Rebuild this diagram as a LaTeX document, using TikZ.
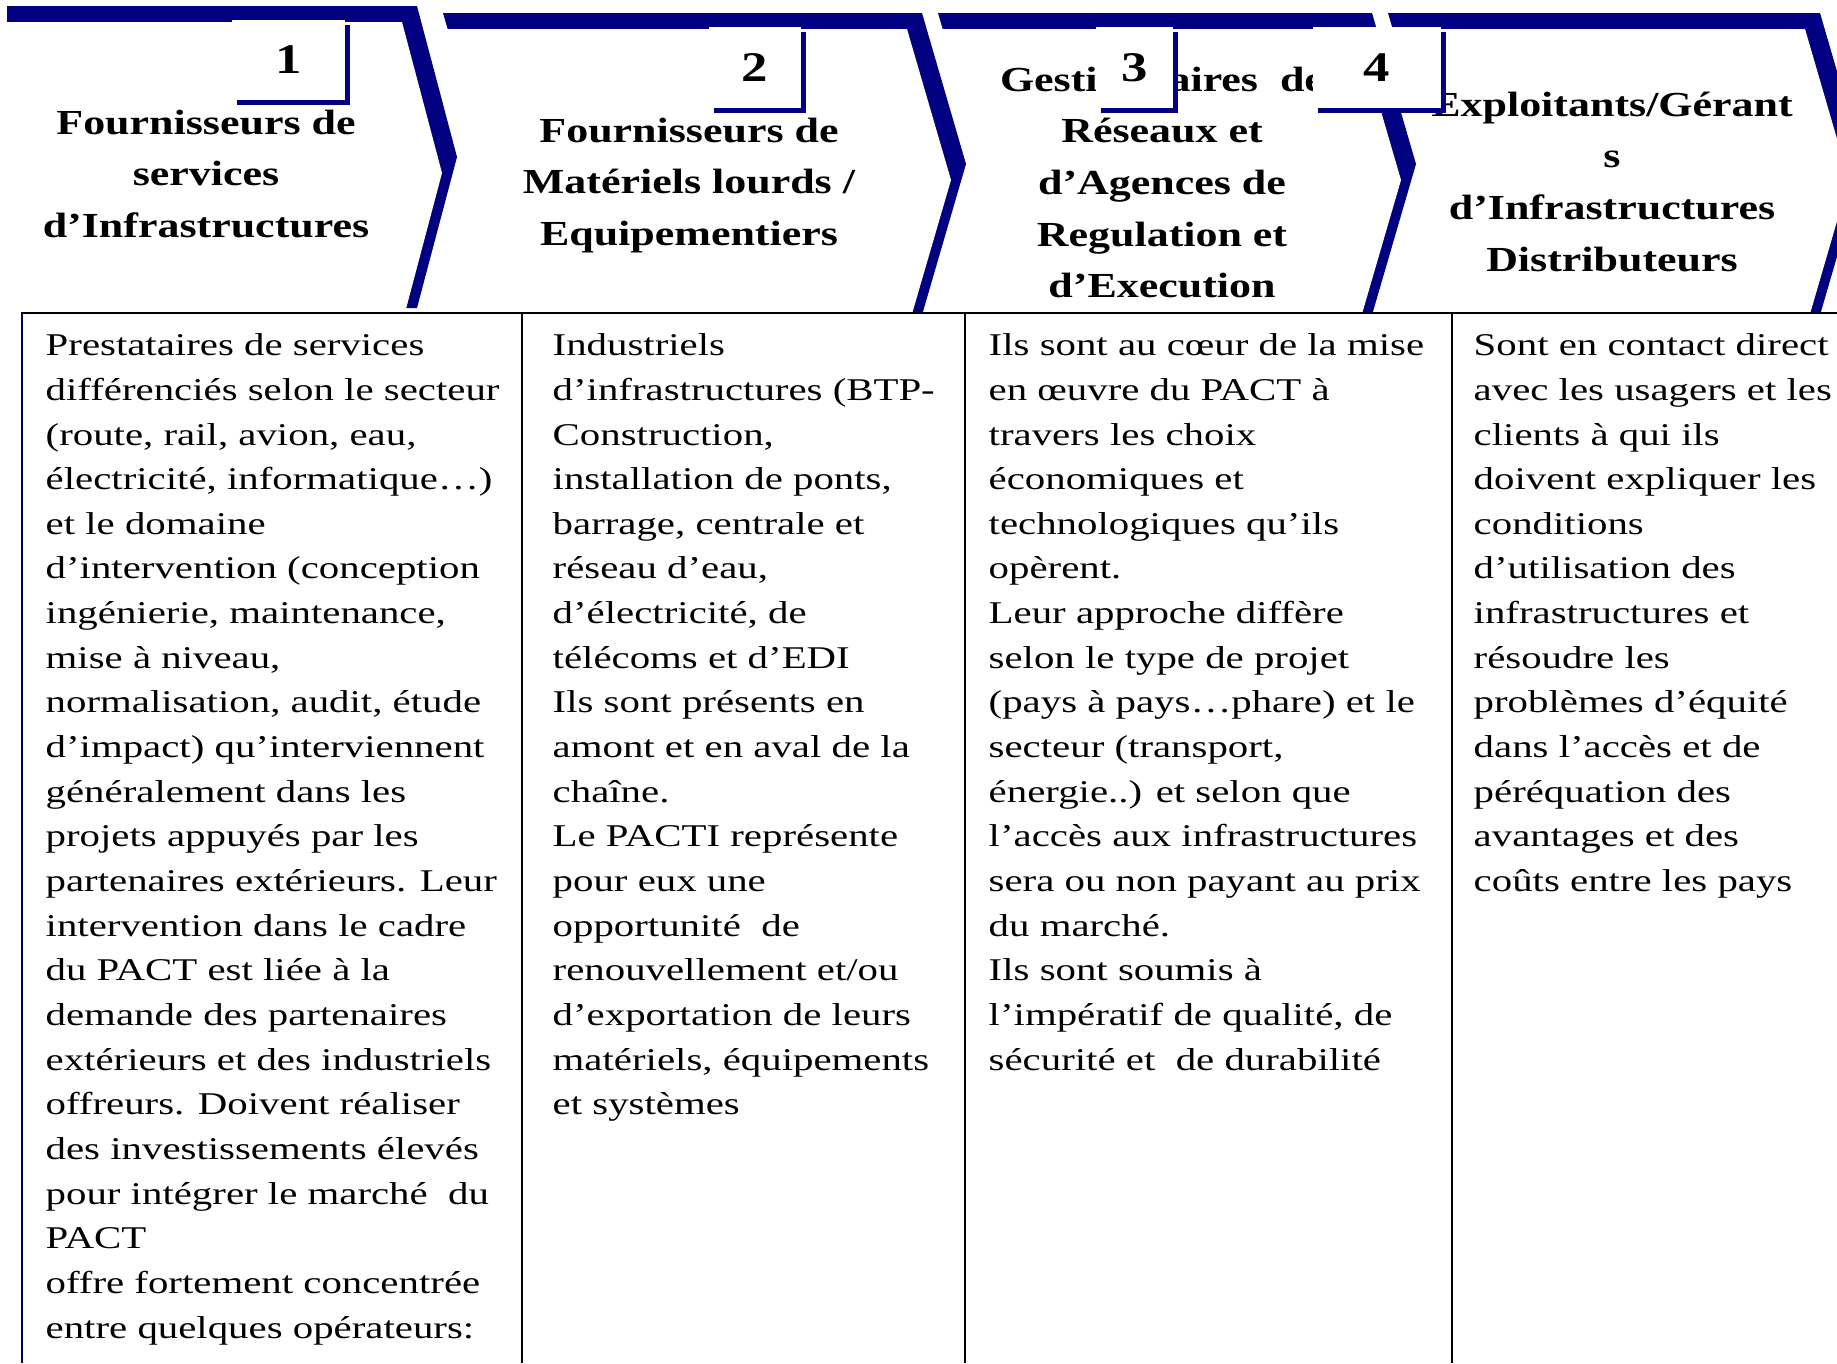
\documentclass[tikz,border=0pt]{standalone}
\usepackage{fontspec}
\setmainfont{Liberation Serif}[FakeStretch=1.29]
\newfontfamily\headfont{Liberation Serif Bold}[FakeStretch=1.25]
\usetikzlibrary{shadows}
\definecolor{navyblue}{RGB}{0,0,128}

\tikzstyle{chevback} = [fill=navyblue, shift={(15,-16)}]
\tikzstyle{chevfront} = [fill=white]
\tikzstyle{heading} = [anchor=north, align=center, inner sep=0pt, font=\headfont\fontsize{10}{14.7}\selectfont]
\tikzstyle{numbox} = [fill=white, inner sep=0pt, font=\headfont\fontsize{12}{14}\selectfont, drop shadow={shadow xshift=0.05cm, shadow yshift=-0.05cm, fill=navyblue, opacity=1}]
\tikzstyle{bodytext} = [anchor=north west, align=left, inner sep=0pt, font=\fontsize{9}{12.7}\selectfont]
\tikzstyle{tabrule} = [line width=0.6pt, black]

\begin{document}
\begin{tikzpicture}[x=0.01cm, y=-0.01cm]
        \clip (0,0) rectangle (1837,1363);
        \fill[white] (0,0) rectangle (1837,1363);

        % chevrons, right to left
        \fill[chevback] (1373,29) -- (1805,29) -- (1849,180) -- (1805,331) -- (1373,331) -- (1417,180) -- cycle;
        \fill[chevfront] (1373,29) -- (1805,29) -- (1849,180) -- (1805,331) -- (1373,331) -- (1417,180) -- cycle;
        \fill[chevback] (923,29) -- (1357,29) -- (1401,180) -- (1357,331) -- (923,331) -- (967,180) -- cycle;
        \fill[chevfront] (923,29) -- (1357,29) -- (1401,180) -- (1357,331) -- (923,331) -- (967,180) -- cycle;
        \fill[chevback] (428,29) -- (907,29) -- (951,180) -- (907,331) -- (428,331) -- (472,180) -- cycle;
        \fill[chevfront] (428,29) -- (907,29) -- (951,180) -- (907,331) -- (428,331) -- (472,180) -- cycle;
        \fill[chevback] (-8,22) -- (402,22) -- (442,173) -- (402,324) -- (-8,324) -- cycle;
        \fill[chevfront] (-8,22) -- (402,22) -- (442,173) -- (402,324) -- (-8,324) -- cycle;

        % headings
        \node (head1) [heading] at (206,109) {Fournisseurs de\\ services\\ d’Infrastructures};
        \node (head2) [heading] at (689,117) {Fournisseurs de\\ Matériels lourds /\\ Equipementiers};
        \node (head3) [heading] at (1162,66) {Gestionnaires\ \ de\\ Réseaux et\\ d’Agences de\\ Regulation et\\ d’Execution};
        \node (head4) [heading] at (1612,91) {Exploitants/Gérant\\ s\\ d’Infrastructures\\ Distributeurs};

        % step numbers
        \node (num1) [numbox, minimum width=1.13cm, minimum height=0.8cm] at (288.5,60) {1};
        \node (num2) [numbox, minimum width=0.92cm, minimum height=0.81cm] at (755,67.5) {2};
        \node (num3) [numbox, minimum width=0.77cm, minimum height=0.81cm] at (1134.5,67.5) {3};
        \node (num4) [numbox, minimum width=1.28cm, minimum height=0.81cm] at (1377,67.5) {4};

        % table
        \fill[white] (22,313) rectangle (1837,1363);
        \draw[tabrule] (21,313) -- (1837,313);
        \draw[line width=0.8pt, navyblue!80!black] (22,313) -- (22,1363);
        \draw[tabrule] (522,313) -- (522,1363);
        \draw[tabrule] (965,313) -- (965,1363);
        \draw[tabrule] (1452,313) -- (1452,1363);

        \node (col1) [bodytext] at (45,333) {Prestataires de services\\ différenciés selon le secteur\\ (route, rail, avion, eau,\\ électricité, informatique…)\\ et le domaine\\ d’intervention (conception\\ ingénierie, maintenance,\\ mise à niveau,\\ normalisation, audit, étude\\ d’impact) qu’interviennent\\ généralement dans les\\ projets appuyés par les\\ partenaires extérieurs. Leur\\ intervention dans le cadre\\ du PACT est liée à la\\ demande des partenaires\\ extérieurs et des industriels\\ offreurs. Doivent réaliser\\ des investissements élevés\\ pour intégrer le marché\ \ du\\ PACT\\ offre fortement concentrée\\ entre quelques opérateurs:};
        \node (col2) [bodytext] at (552,333) {Industriels\\ d’infrastructures (BTP-\\ Construction,\\ installation de ponts,\\ barrage, centrale et\\ réseau d’eau,\\ d’électricité, de\\ télécoms et d’EDI\\ Ils sont présents en\\ amont et en aval de la\\ chaîne.\\ Le PACTI représente\\ pour eux une\\ opportunité\ \ de\\ renouvellement et/ou\\ d’exportation de leurs\\ matériels, équipements\\ et systèmes};
        \node (col3) [bodytext] at (988,333) {Ils sont au cœur de la mise\\ en œuvre du PACT à\\ travers les choix\\ économiques et\\ technologiques qu’ils\\ opèrent.\\ Leur approche diffère\\ selon le type de projet\\ (pays à pays…phare) et le\\ secteur (transport,\\ énergie..) et selon que\\ l’accès aux infrastructures\\ sera ou non payant au prix\\ du marché.\\ Ils sont soumis à\\ l’impératif de qualité, de\\ sécurité et\ \ de durabilité};
        \node (col4) [bodytext] at (1473,333) {Sont en contact direct\\ avec les usagers et les\\ clients à qui ils\\ doivent expliquer les\\ conditions\\ d’utilisation des\\ infrastructures et\\ résoudre les\\ problèmes d’équité\\ dans l’accès et de\\ péréquation des\\ avantages et des\\ coûts entre les pays};
      \end{tikzpicture}
\end{document}
